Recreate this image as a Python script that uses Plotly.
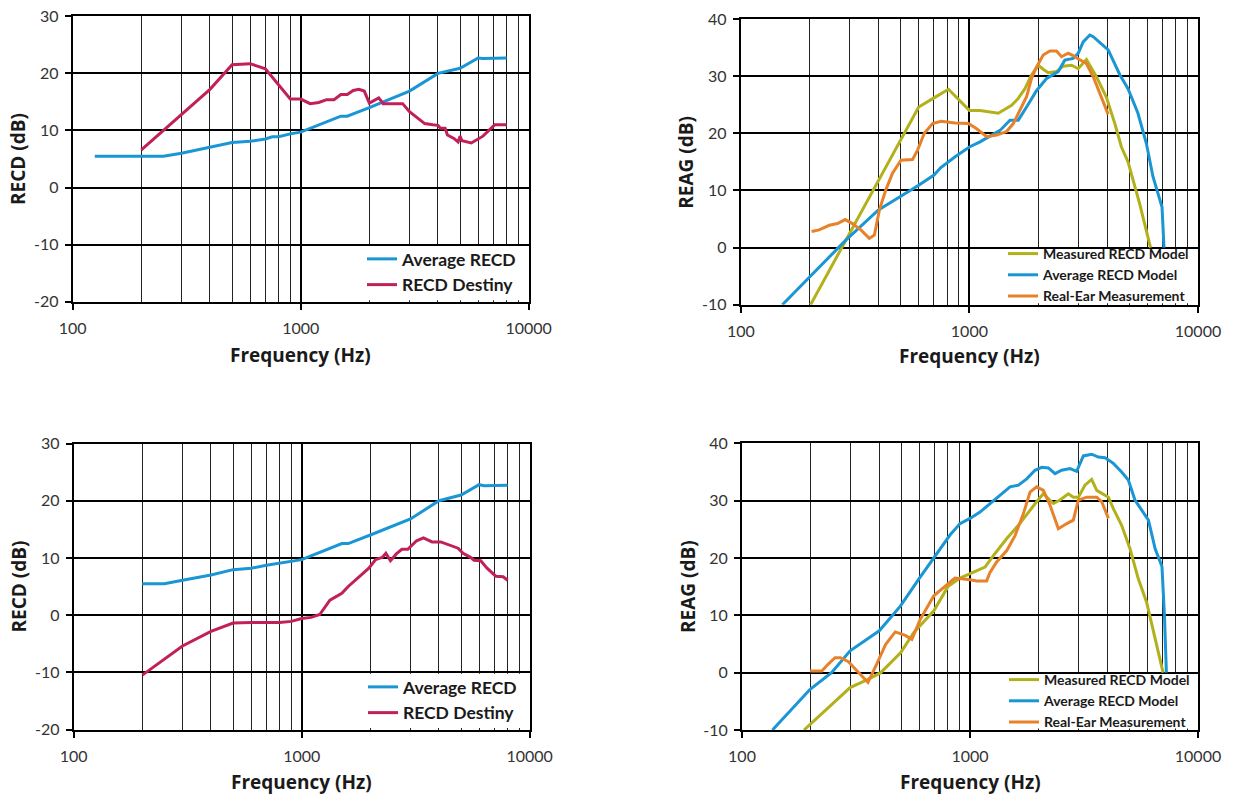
import plotly.graph_objects as go

# ---------------- data ----------------
# Top-left: RECD
tl_avg_f = [125, 250, 300, 400, 500, 600, 700, 750, 800, 900, 1000, 1500, 1600, 2000, 3000, 4000, 5000, 6000, 6300, 8000]
tl_avg_v = [5.5, 5.5, 6.0, 7.0, 7.9, 8.1, 8.5, 8.9, 8.9, 9.4, 9.7, 12.5, 12.5, 14.0, 16.9, 20.0, 20.9, 22.7, 22.6, 22.7]
tl_dest_f = [200, 400, 500, 600, 700, 900, 1000, 1100, 1200, 1300, 1400, 1500, 1600, 1700, 1800, 1900, 2000, 2200,
             2300, 2800, 3000, 3500, 3800, 4000, 4100, 4300, 4400, 4700, 4900, 5000, 5100, 5600, 6300, 6900, 7100, 8000]
tl_dest_v = [6.6, 17.2, 21.5, 21.7, 20.8, 15.5, 15.5, 14.7, 14.9, 15.4, 15.4, 16.3, 16.3, 17.0, 17.2, 16.9, 14.8, 15.7,
             14.7, 14.7, 13.3, 11.2, 11.0, 10.9, 10.4, 10.4, 9.2, 8.6, 8.0, 9.0, 8.2, 7.8, 9.0, 10.4, 11.0, 11.0]

# Bottom-left: RECD
bl_avg_f = [200, 250, 300, 400, 500, 600, 700, 750, 800, 900, 1000, 1500, 1600, 2000, 3000, 4000, 5000, 6000, 6300, 8000]
bl_avg_v = [5.5, 5.5, 6.1, 7.0, 7.95, 8.2, 8.7, 8.9, 9.0, 9.4, 9.7, 12.5, 12.5, 14.0, 16.8, 20.0, 21.0, 22.8, 22.6, 22.7]
bl_dest_f = [200, 300, 400, 500, 600, 800, 900, 1000, 1100, 1200, 1330, 1500, 1600, 1750, 1970, 2110, 2260, 2340, 2450,
             2600, 2750, 2920, 3190, 3420, 3730, 4070, 4600, 4850, 5100, 5500, 5700, 6100, 6500, 7100, 7650, 8000]
bl_dest_v = [-10.5, -5.4, -2.85, -1.4, -1.3, -1.3, -1.1, -0.6, -0.4, 0.1, 2.6, 3.8, 5.0, 6.4, 8.2, 9.7, 10.1, 10.8, 9.5,
             10.7, 11.5, 11.5, 13.0, 13.5, 12.8, 12.8, 12.0, 11.7, 10.8, 10.1, 9.6, 9.5, 8.2, 6.8, 6.7, 6.1]

# Top-right: REAG
tr_meas_f = [202, 283, 500, 600, 700, 810, 1000, 1113, 1338, 1431, 1530, 1636, 1750, 1870, 2000, 2103, 2212, 2403,
             2574, 2800, 2990, 3250, 3596, 3975, 4327, 4624, 4941, 5554, 6200]
tr_meas_v = [-10, 0.7, 18.8, 24.6, 26.2, 27.7, 24.0, 24.0, 23.5, 24.2, 24.9, 26.1, 27.8, 30.2, 31.9, 31.2, 30.6, 30.8,
             31.75, 31.9, 31.3, 32.9, 29.9, 26.3, 21.7, 17.6, 15.0, 7.7, 0]
tr_avg_f = [152, 288, 400, 500, 600, 700, 750, 866, 1000, 1113, 1231, 1361, 1505, 1636, 1779, 1968, 2176, 2446, 2615,
            2844, 2990, 3146, 3364, 3480, 4047, 4556, 4941, 5462, 5946, 6355, 6960, 7100]
tr_avg_v = [-10, 1.3, 6.6, 8.9, 10.9, 12.7, 14.0, 15.9, 17.6, 18.5, 19.5, 20.5, 22.3, 22.3, 24.6, 27.5, 29.6, 30.8, 32.8,
            33.1, 34.0, 36.0, 37.2, 36.9, 34.6, 30.2, 27.8, 23.5, 18.2, 12.4, 7.1, 0]
tr_rem_f = [204, 220, 244, 265, 286, 308, 335, 365, 384, 404, 431, 461, 502, 564, 594, 635, 690, 751, 866, 990, 1076,
            1190, 1316, 1455, 1556, 1663, 1779, 1870, 1968, 2103, 2249, 2403, 2530, 2705, 2844, 3000, 3250, 3480, 3720, 4047]
tr_rem_v = [2.8, 3.1, 3.9, 4.2, 4.9, 4.2, 3.1, 1.6, 2.2, 6.6, 10.1, 13.0, 15.3, 15.4, 17.1, 20.0, 21.7, 22.1, 21.8, 21.7,
            20.8, 19.4, 19.7, 20.3, 21.7, 24.0, 26.4, 29.6, 31.6, 33.7, 34.4, 34.4, 33.4, 34.0, 33.6, 33.0, 32.2, 29.9, 27.0, 23.3]

# Bottom-right: REAG
br_meas_f = [187, 243, 298, 355, 406, 497, 567, 694, 800, 904, 1000, 1164, 1266, 1450, 1630, 1801, 1960, 2098, 2319,
             2481, 2700, 2838, 2987, 3193, 3416, 3596, 4047, 4253, 4624, 5032, 5468, 5950, 7031]
br_meas_v = [-10, -5.8, -2.6, -1.2, 0, 3.5, 7.0, 10.8, 15.0, 16.5, 17.3, 18.4, 20.4, 23.4, 25.7, 28.0, 29.8, 31.2, 29.5,
             30.1, 31.2, 30.6, 30.6, 32.7, 33.7, 31.8, 30.6, 28.6, 25.7, 21.6, 16.4, 12.3, 0]
br_avg_f = [136, 199, 247, 298, 400, 495, 596, 707, 817, 904, 1000, 1106, 1224, 1354, 1498, 1630, 1773, 1928, 2063, 2206,
            2360, 2522, 2745, 2937, 3142, 3416, 3654, 3909, 4253, 4624, 4947, 5291, 5758, 6062, 6487, 6950, 7130, 7266]
br_avg_v = [-10, -2.9, 0, 3.8, 7.3, 11.6, 16.3, 20.5, 24.0, 26.0, 26.9, 28.0, 29.5, 30.9, 32.4, 32.7, 33.8, 35.3, 35.8,
            35.7, 34.7, 35.3, 35.6, 35.1, 37.8, 38.1, 37.6, 37.5, 36.5, 35.0, 33.6, 30.1, 28.0, 26.6, 21.6, 18.5, 9.8, 0]
br_rem_f = [199, 224, 239, 256, 270, 293, 320, 357, 392, 426, 470, 520, 556, 605, 694, 768, 817, 859, 935, 1000, 1070,
            1183, 1224, 1309, 1450, 1576, 1714, 1834, 1960, 2098, 2244, 2441, 2658, 2838, 2987, 3252, 3596, 3784, 4047]
br_rem_v = [0.3, 0.3, 1.5, 2.6, 2.6, 1.9, 0.3, -1.7, 1.7, 4.9, 7.1, 6.5, 5.8, 9.3, 13.4, 15.0, 15.8, 16.5, 16.4, 16.2, 16.0,
            16.0, 17.5, 19.3, 21.3, 23.9, 27.7, 31.5, 32.4, 31.8, 29.2, 25.1, 26.0, 26.6, 30.1, 30.6, 30.6, 29.8, 26.9]

x_tickvals = [100, 1000, 10000]
x_ticktext = ["100", "1000", "10000"]
x_minor = [200, 300, 400, 500, 600, 700, 800, 900, 2000, 3000, 4000, 5000, 6000, 7000, 8000, 9000]
y_left_ticks = [-20, -10, 0, 10, 20, 30]
y_right_ticks = [-10, 0, 10, 20, 30, 40]
x_title = "Frequency (Hz)"
y_titles = {1: "RECD (dB)", 2: "REAG (dB)", 3: "RECD (dB)", 4: "REAG (dB)"}

# ---------------- style ----------------
FONT = "Lato, 'Open Sans', sans-serif"
TFONT = "'Open Sans', Lato, sans-serif"
BLUE = "#1a96d5"
RED = "#c2205a"
OLIVE = "#b3b11b"
ORANGE = "#e8822a"

fig = go.Figure()


def add(x, y, name, color, idx, legend):
    s = "" if idx == 1 else str(idx)
    fig.add_trace(go.Scatter(x=x, y=y, mode="lines", name=name,
                             line=dict(color=color, width=3),
                             xaxis="x" + s, yaxis="y" + s, legend=legend,
                             hoverinfo="skip"))


add(tl_avg_f, tl_avg_v, "Average RECD", BLUE, 1, "legend")
add(tl_dest_f, tl_dest_v, "RECD Destiny", RED, 1, "legend")
add(tr_meas_f, tr_meas_v, "Measured RECD Model", OLIVE, 2, "legend2")
add(tr_avg_f, tr_avg_v, "Average RECD Model", BLUE, 2, "legend2")
add(tr_rem_f, tr_rem_v, "Real-Ear Measurement", ORANGE, 2, "legend2")
add(bl_avg_f, bl_avg_v, "Average RECD", BLUE, 3, "legend3")
add(bl_dest_f, bl_dest_v, "RECD Destiny", RED, 3, "legend3")
add(br_meas_f, br_meas_v, "Measured RECD Model", OLIVE, 4, "legend4")
add(br_avg_f, br_avg_v, "Average RECD Model", BLUE, 4, "legend4")
add(br_rem_f, br_rem_v, "Real-Ear Measurement", ORANGE, 4, "legend4")

W, H = 1236, 796


def px_x(a, b):
    return [a / W, b / W]


def px_y(top, bottom):
    return [1 - bottom / H, 1 - top / H]


def xax(domain, anchor):
    return dict(type="log", range=[2, 4], domain=domain, anchor=anchor,
                tickmode="array", tickvals=x_tickvals, ticktext=x_ticktext,
                ticks="outside", ticklen=6, tickwidth=1.5, tickcolor="black",
                showgrid=True, gridcolor="black", gridwidth=1.5,
                minor=dict(tickmode="array", tickvals=x_minor, showgrid=True,
                           gridcolor="#222222", gridwidth=1, ticks=""),
                showline=True, mirror=True, linecolor="black", linewidth=2,
                zeroline=False, automargin=False, ticklabelstandoff=5,
                tickfont=dict(family=FONT, size=16, color="#333333"))


def yax(domain, anchor, rng, ticks):
    return dict(range=rng, domain=domain, anchor=anchor,
                tickmode="array", tickvals=ticks, ticktext=[str(t) for t in ticks],
                ticks="outside", ticklen=6, tickwidth=1.5, tickcolor="black",
                showgrid=True, gridcolor="black", gridwidth=2,
                showline=True, mirror=True, linecolor="black", linewidth=2,
                zeroline=False, automargin=False, ticklabelstandoff=3,
                tickfont=dict(family=FONT, size=16, color="#333333"))


dom = {
    1: (px_x(72.7, 528.7), px_y(16.3, 301.7)),
    2: (px_x(740.8, 1198), px_y(19, 304.7)),
    3: (px_x(73.7, 529.7), px_y(443.5, 729.5)),
    4: (px_x(742, 1198), px_y(443.3, 730)),
}

layout = dict(width=W, height=H, margin=dict(l=0, r=0, t=0, b=0),
              paper_bgcolor="white", plot_bgcolor="white", showlegend=True)
layout["xaxis"] = xax(dom[1][0], "y")
layout["yaxis"] = yax(dom[1][1], "x", [-20, 30], y_left_ticks)
layout["xaxis2"] = xax(dom[2][0], "y2")
layout["yaxis2"] = yax(dom[2][1], "x2", [-10, 40], y_right_ticks)
layout["xaxis3"] = xax(dom[3][0], "y3")
layout["yaxis3"] = yax(dom[3][1], "x3", [-20, 30], y_left_ticks)
layout["xaxis4"] = xax(dom[4][0], "y4")
layout["yaxis4"] = yax(dom[4][1], "x4", [-10, 40], y_right_ticks)


def leg(x_px, y_px, size):
    return dict(x=x_px / W, y=1 - y_px / H, xanchor="left", yanchor="bottom",
                bgcolor="rgba(0,0,0,0)", borderwidth=0, tracegroupgap=0,
                font=dict(family=FONT, size=size, color="#1a1a1a", weight="bold"))


layout["legend"] = leg(362, 303, 17.5)
layout["legend2"] = leg(1003, 312, 14)
layout["legend3"] = leg(363, 731, 17.5)
layout["legend4"] = leg(1004, 738, 14)

# white background panel behind each legend (hides the grid there), inset from the frame
shapes = []
for xs, ys, y0, y1 in [("x", "y", -19.75, -10.25), ("x2", "y2", -9.75, -0.25),
                       ("x3", "y3", -19.75, -10.25), ("x4", "y4", -9.75, -0.25)]:
    shapes.append(dict(type="rect", xref=xs, yref=ys, x0=1100, x1=9930, y0=y0, y1=y1,
                       fillcolor="white", line=dict(width=0), layer="above"))
layout["shapes"] = shapes

# axis titles
ann = []
title_font = dict(family=TFONT, size=19, color="#1a1a1a", weight="bold")
xt_off = {1: -0.187, 2: -0.18, 3: -0.184, 4: -0.182}
for i in range(1, 5):
    s = "" if i == 1 else str(i)
    ann.append(dict(text=x_title, xref="x" + s + " domain", yref="y" + s + " domain",
                    x=0.5, y=xt_off[i], xanchor="center", yanchor="middle",
                    showarrow=False, font=title_font))
    ann.append(dict(text=y_titles[i], xref="x" + s + " domain", yref="y" + s + " domain",
                    x=-0.12, y=0.5, xanchor="center", yanchor="middle", textangle=-90,
                    showarrow=False, font=title_font))
layout["annotations"] = ann

fig.update_layout(**layout)
fig.write_html("out.html")
